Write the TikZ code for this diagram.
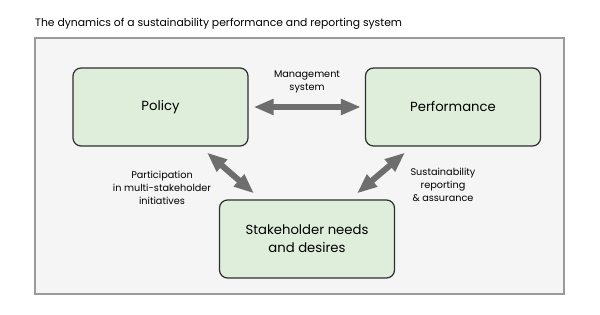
\documentclass[tikz,border=0pt]{standalone}
\usepackage{fontspec}
\setmainfont{Poppins}
\usetikzlibrary{arrows.meta}
\definecolor{boxfill}{HTML}{DEEEDA}
\definecolor{boxline}{HTML}{2E2E2E}
\definecolor{outerfill}{HTML}{F5F5F5}
\definecolor{outerline}{HTML}{9A9A9A}
\definecolor{arrowgray}{HTML}{6E6E6E}
\tikzset{
  mainbox/.style={draw=boxline, line width=1.2pt, fill=boxfill, rounded corners=8pt,
    minimum width=175pt, minimum height=78pt, align=center, font=\fontsize{13.2}{18}\selectfont, inner sep=0pt},
  lbl/.style={align=center, font=\fontsize{9.7}{13}\selectfont, inner sep=0pt},
  bigarrow/.style={draw=arrowgray, line width=6pt,
    {Triangle[width=15pt,length=20pt]}-{Triangle[width=15pt,length=20pt]}}
}
\begin{document}
\begin{tikzpicture}[x=1pt,y=-1pt]
\useasboundingbox (0,0) rectangle (600,315);
\fill[white] (0,0) rectangle (600,315);
\node[draw=outerline, line width=1.5pt, fill=outerfill, minimum width=529pt, minimum height=256pt, inner sep=0pt] (frame) at (299.5,166) {};
\node[anchor=base west, inner sep=0pt, font=\fontsize{10.8}{13}\selectfont] (title) at (35,26.5) {The dynamics of a sustainability performance and reporting system};
\node[mainbox] (policy) at (160.5,107) {Policy};
\node[mainbox] (perf) at (453,107) {Performance};
\node[mainbox] (stake) at (307,239) {Stakeholder needs\\and desires};
\draw[bigarrow, shorten <=5pt, shorten >=4pt] (policy.east) -- (perf.west);
\draw[bigarrow] ([shift={(46.5,6)}]policy.south) -- ([shift={(-53,-6)}]stake.north);
\draw[bigarrow] ([shift={(-48,6)}]perf.south) -- ([shift={(50,-6)}]stake.north);
\node[lbl] (mgmt) at (307,81.5) {Management\\system};
\node[lbl] (part) at (162,188) {Participation\\in multi-stakeholder\\initiatives};
\node[lbl] (sust) at (443,185) {Sustainability\\reporting\\\& assurance};
\end{tikzpicture}
\end{document}
